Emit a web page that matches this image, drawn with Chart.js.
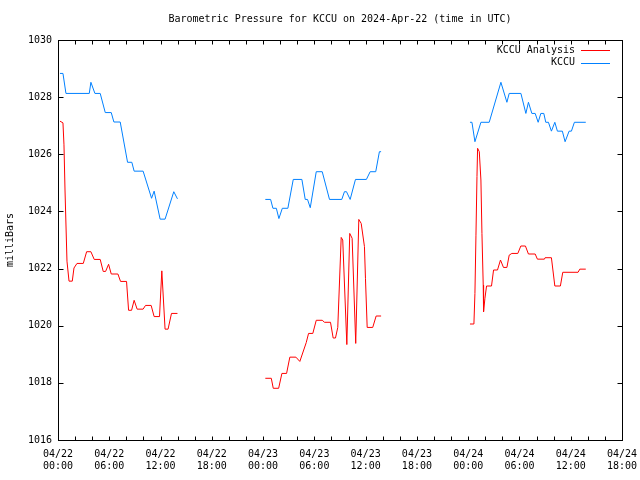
<!DOCTYPE html>
<html>
<head>
<meta charset="utf-8">
<title>Barometric Pressure for KCCU</title>
<script src="https://cdn.jsdelivr.net/npm/chart.js@4.4.1/dist/chart.umd.min.js"></script>
<style>
    body { margin: 0; background: #ffffff; }
</style>
</head>
<body>
<canvas id="pressureChart" width="640" height="480"></canvas>
<script>
// hours after 04/22 00:00 UTC, null breaks the line where data is missing
var dayLabels = ['04/22', '04/23', '04/24'];
var yTicks = [1016, 1030, 2];

var analysisHours = [0.23, 0.58, 0.70, 0.82, 1.05, 1.29, 1.67, 1.87, 2.22, 2.96, 3.35, 3.85, 4.24, 4.94, 5.29, 5.57, 5.92, 6.23, 7.01, 7.32, 8.02, 8.26, 8.61, 8.91, 9.26, 9.96, 10.24, 10.90, 11.25, 11.88, 12.15, 12.53, 12.88, 13.28, 13.98,
    19,
    24.26, 24.96, 25.19, 25.82, 26.20, 26.75, 27.13, 27.84, 28.30, 29.05, 29.32, 29.82, 30.22, 30.92, 31.19, 31.89, 32.20, 32.47, 32.74, 33.14, 33.32, 33.80, 34.14, 34.42, 34.84, 35.20, 35.48, 35.86, 35.98, 36.18, 36.83, 37.23, 37.81,
    43,
    48.21, 48.67, 48.79, 48.91, 49.03, 49.10, 49.30, 49.49, 49.61, 49.76, 49.80, 49.96, 50.15, 50.73, 50.97, 51.43, 51.78, 52.13, 52.53, 52.80, 53.11, 53.81, 54.16, 54.70, 55.05, 55.84, 56.10, 56.92, 57.00, 57.74, 58.14, 58.79, 59.07, 60.86, 61.06, 61.76];
var analysisMb = [1027.16, 1027.10, 1026.33, 1024.75, 1022.26, 1021.56, 1021.56, 1022.02, 1022.18, 1022.18, 1022.59, 1022.59, 1022.32, 1022.32, 1021.90, 1021.90, 1022.15, 1021.81, 1021.81, 1021.55, 1021.55, 1020.54, 1020.54, 1020.89, 1020.58, 1020.58, 1020.71, 1020.71, 1020.32, 1020.32, 1021.92, 1019.88, 1019.88, 1020.43, 1020.43,
    null,
    1018.16, 1018.16, 1017.81, 1017.81, 1018.33, 1018.33, 1018.90, 1018.90, 1018.75, 1019.41, 1019.73, 1019.73, 1020.19, 1020.19, 1020.12, 1020.12, 1019.57, 1019.57, 1019.94, 1023.09, 1023.00, 1019.34, 1023.23, 1023.06, 1019.38, 1023.72, 1023.58, 1022.77, 1021.66, 1019.94, 1019.94, 1020.34, 1020.34,
    null,
    1020.06, 1020.06, 1021.13, 1023.17, 1025.22, 1026.21, 1026.09, 1025.10, 1023.23, 1021.42, 1020.49, 1020.96, 1021.39, 1021.39, 1021.95, 1021.95, 1022.30, 1022.04, 1022.04, 1022.47, 1022.53, 1022.53, 1022.79, 1022.79, 1022.51, 1022.51, 1022.33, 1022.33, 1022.38, 1022.38, 1021.39, 1021.39, 1021.87, 1021.87, 1021.98, 1021.98];

var kccuHours = [0.23, 0.58, 0.93, 3.66, 3.85, 4.32, 4.94, 5.53, 6.23, 6.54, 7.28, 8.14, 8.64, 8.91, 9.96, 10.95, 11.25, 11.95, 12.53, 13.55, 13.98,
    19,
    24.26, 24.88, 25.15, 25.55, 25.85, 26.25, 26.90, 27.53, 28.54, 28.93, 29.20, 29.52, 30.22, 30.92, 31.77, 33.21, 33.52, 33.76, 34.19, 34.81, 36.09, 36.53, 37.18, 37.61, 37.81,
    43,
    48.21, 48.44, 48.79, 49.49, 50.46, 51.83, 52.53, 52.80, 54.17, 54.75, 55.05, 55.45, 55.84, 56.19, 56.50, 56.85, 57.08, 57.39, 57.74, 58.14, 58.44, 59.02, 59.34, 59.81, 60.08, 60.43, 61.76];
var kccuMb = [1028.83, 1028.83, 1028.13, 1028.13, 1028.52, 1028.13, 1028.13, 1027.46, 1027.46, 1027.13, 1027.13, 1025.72, 1025.72, 1025.41, 1025.41, 1024.46, 1024.71, 1023.73, 1023.73, 1024.69, 1024.44,
    null,
    1024.42, 1024.42, 1024.11, 1024.11, 1023.75, 1024.11, 1024.11, 1025.12, 1025.12, 1024.42, 1024.42, 1024.13, 1025.39, 1025.39, 1024.42, 1024.42, 1024.69, 1024.69, 1024.42, 1025.12, 1025.12, 1025.39, 1025.39, 1026.09, 1026.09,
    null,
    1027.12, 1027.12, 1026.44, 1027.12, 1027.12, 1028.52, 1027.82, 1028.13, 1028.13, 1027.43, 1027.82, 1027.43, 1027.43, 1027.12, 1027.43, 1027.43, 1027.12, 1027.12, 1026.81, 1027.12, 1026.81, 1026.81, 1026.44, 1026.81, 1026.81, 1027.12, 1027.12];

var FONT = '"DejaVu Sans Mono", "Liberation Mono", monospace';

function toPoints(hours, values) {
    var pts = [];
    for (var i = 0; i < hours.length; i++) {
        pts.push({ x: hours[i], y: values[i] });
    }
    return pts;
}

function pad2(n) {
    return (n < 10 ? '0' : '') + n;
}

// gnuplot style frame: box, inward ticks, title and legend inside the plot
var gnuFrame = {
    id: 'gnuFrame',
    afterDraw: function (chart) {
        var ctx = chart.ctx;
        var area = chart.chartArea;
        var xs = chart.scales.x;
        var ys = chart.scales.y;
        var l = Math.round(area.left) + 0.5;
        var r = Math.round(area.right) + 0.5;
        var t = Math.round(area.top) + 0.5;
        var b = Math.round(area.bottom) + 0.5;

        ctx.save();
        ctx.strokeStyle = '#000000';
        ctx.lineWidth = 1;
        ctx.beginPath();
        xs.ticks.forEach(function (tick) {
            var px = Math.round(xs.getPixelForValue(tick.value)) + 0.5;
            ctx.moveTo(px, b); ctx.lineTo(px, b - 4);
            ctx.moveTo(px, t); ctx.lineTo(px, t + 4);
        });
        ys.ticks.forEach(function (tick) {
            var py = Math.round(ys.getPixelForValue(tick.value)) + 0.5;
            ctx.moveTo(l, py); ctx.lineTo(l + 5, py);
            ctx.moveTo(r, py); ctx.lineTo(r - 5, py);
        });
        ctx.stroke();
        ctx.strokeRect(l, t, r - l, b - t);

        ctx.fillStyle = '#000000';
        ctx.font = '10px ' + FONT;
        ctx.textAlign = 'center';
        ctx.textBaseline = 'middle';
        ctx.fillText('Barometric Pressure for KCCU on 2024-Apr-22 (time in UTC)', (area.left + area.right) / 2, 19);

        // legend, text right aligned, sample line on the right
        ctx.textAlign = 'right';
        chart.data.datasets.forEach(function (ds, i) {
            var y = 50 + i * 12.5;
            ctx.fillStyle = '#000000';
            ctx.fillText(ds.label, 575, y);
            ctx.strokeStyle = ds.borderColor;
            ctx.beginPath();
            ctx.moveTo(581, Math.round(y) + 0.5);
            ctx.lineTo(610, Math.round(y) + 0.5);
            ctx.stroke();
        });
        ctx.restore();
    }
};

var ctx = document.getElementById('pressureChart');
var pressureChart = new Chart(ctx, {
    type: 'line',
    data: {
        datasets: [
            {
                label: 'KCCU Analysis',
                data: toPoints(analysisHours, analysisMb),
                borderColor: '#ff0000',
                borderWidth: 1,
                pointRadius: 0,
                tension: 0,
                spanGaps: false
            },
            {
                label: 'KCCU',
                data: toPoints(kccuHours, kccuMb),
                borderColor: '#0080ff',
                borderWidth: 1,
                pointRadius: 0,
                tension: 0,
                spanGaps: false
            }
        ]
    },
    options: {
        responsive: false,
        animation: false,
        events: [],
        layout: {
            padding: { top: 40, right: 18, left: 0, bottom: 0 }
        },
        plugins: {
            legend: { display: false },
            title: { display: false },
            tooltip: { enabled: false }
        },
        scales: {
            x: {
                type: 'linear',
                min: 0,
                max: 66,
                afterFit: function (scale) {
                    scale.height = 40;
                    scale.paddingLeft = 0;
                    scale.paddingRight = 0;
                },
                grid: { display: false, drawTicks: false },
                border: { display: false },
                ticks: {
                    stepSize: 2,
                    autoSkip: false,
                    maxRotation: 0,
                    padding: 8,
                    color: '#000000',
                    font: { family: FONT, size: 10 },
                    callback: function (value) {
                        if (value % 6 !== 0) return '';
                        return [dayLabels[Math.min(Math.floor(value / 24), 2)], pad2(value % 24) + ':00'];
                    }
                }
            },
            y: {
                min: yTicks[0],
                max: yTicks[1],
                afterFit: function (scale) { scale.width = 58; },
                grid: { display: false, drawTicks: false },
                border: { display: false },
                title: {
                    display: true,
                    text: 'milliBars',
                    color: '#000000',
                    font: { family: FONT, size: 10 },
                    padding: { top: 4, bottom: 0 }
                },
                ticks: {
                    stepSize: yTicks[2],
                    padding: 6,
                    color: '#000000',
                    font: { family: FONT, size: 10 },
                    callback: function (value) { return String(value); }
                }
            }
        }
    },
    plugins: [gnuFrame]
});
</script>
</body>
</html>
